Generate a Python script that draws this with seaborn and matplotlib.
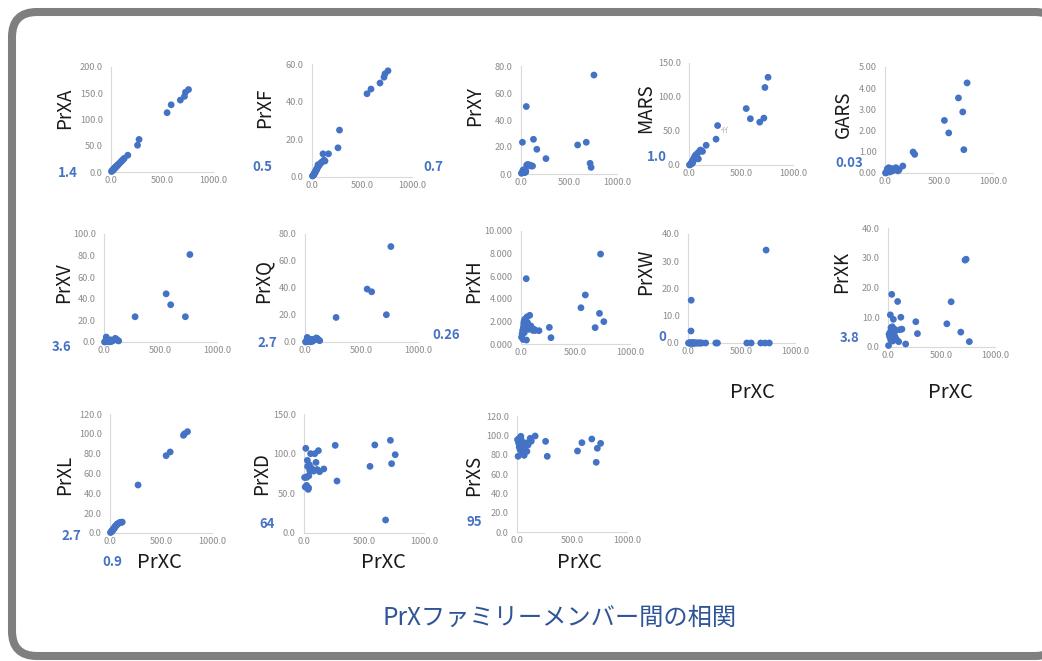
import numpy as np
import pandas as pd
import matplotlib
matplotlib.use('Agg')
import matplotlib.pyplot as plt
from matplotlib.patches import FancyBboxPatch
from matplotlib.ticker import FormatStrFormatter
import seaborn as sns

nan = np.nan

# shared x (PrXC) for every sample
prxc = [5, 10, 15, 20, 22, 25, 28, 30, 35, 38, 40, 45, 48, 50, 55, 60, 65, 70, 80, 90,
        100, 110, 120, 130, 165, 260, 275, 550, 590, 680, 720, 730, 760]

prxa = [1, 2, 3, 4, 4.5, 5, 6, 6, 7, 8, 8, 9, 10, 10, 11, 12, 13, 14, 16, 18,
        20, 22, 24, 26, 32, 51, 62, 113, 128, 137, 144, 152, 157]
prxf = [0.5, 0.8, 1, 1.5, 1.8, 2, 2.2, 2.5, 3, 3.2, 3.5, 4, 4.2, 4.5, 5, 6.5, 6, 6, 7, 7.5,
        8, 12.3, 9, 8.5, 12.3, 15.5, 24.9, 44.2, 46.7, 49.9, 53, 54.8, 56.4]
prxy = [0.5, 1, 23.5, 2, 3, 1.5, 2.5, 3, 2, 1, 3, 2.5, 1.5, 2, 50, 6.7, 6.5, 7, 6.5, 6.7,
        6, 6, 5.9, 25.7, 18.3, 11.4, nan, nan, 21.5, 23.5, 7.9, 4.9, 73.3]
mars = [0, 0.5, 1, 2, 3, 2, 4, 5, 3, 6, 8, 7, 10, 9, 12, 14, 13, 15, 17, 9,
        20, 22, 21, 20, 29, 38, 58, 83, 68, 63, 69, 114, 129]
gars = [0, 0.02, 0.05, 0.15, 0.2, 0.1, 0.05, 0.2, 0.25, 0.1, 0.15, 0.05, 0.1, 0.2, 0.1, 0.15, 0.2, 0.1, 0.15, 0.2,
        0.25, 0.2, 0.1, 0.15, 0.33, 0.99, 0.88, 2.48, 1.89, 3.54, 2.88, 1.10, 4.25]
prxv = [0, 0.5, 1, 4.6, 1, 0.5, 2, 1, 0.3, 0.5, 1, 1.5, 0.5, 0.2, 1, 2, 0.5, 1, 1.5, 2,
        3.4, 2.5, 1.5, 1, nan, nan, 23.4, 44.6, 34.5, nan, 23.4, nan, 81]
prxq = [0, 0.5, 1, 3.4, 1, 0.5, 2, 1, 0.3, 0.5, 1, 1.5, 0.5, 0.2, 1, 2, 0.5, 1, 1.5, 2,
        3, 2.5, 1.5, 1, nan, nan, 18.2, 39.2, 37.2, nan, 20.2, nan, 70.7]
prxh = [0.6, 0.9, 1.2, 0.4, 1.5, 1.8, 2.0, 1.0, 2.2, 1.6, 1.4, 1.4, 5.78, 0.35, 2.4, 1.9, 1.5, 1.3, 2.54, 1.6,
        1.4, 1.2, 1.3, 1.2, 1.18, 1.47, 0.56, 3.21, 4.34, 1.45, 2.71, 7.96, 1.98]
prxw = [0, 0, 0, 0, 0, 0, 4.4, 15.7, 0, 0, 0, 0, 0, 0, 0, 0, 0, 0, 0, 0,
        0, 0, 0, 0, 0, 0, 0, 0, 0, 0, 0, 34.1, 0]
prxk = [0.5, 4.3, 3.5, 5, 10.8, 2.5, 6.5, 4, 17.7, 3, 6.8, 2, 5, 9.3, 4.5, 6, 3.5, 5.5, 2.5, 15.3,
        1.8, 5.8, 10, 6, 1, 8.5, 4.5, 7.8, 15.2, 5.0, 29.2, 29.5, 1.8]
prxl = [0.5, 1, 1.5, 2, 2.5, 3, 3, 3.5, 4, 4.5, 5, 5.5, 6, 6.5, 7, 7.5, 8, 9, 9.5, 10,
        10.8, 10.8, 11, nan, nan, nan, 48.4, 78, 81.7, nan, 98.5, 100, 102.2]
prxd = [70, 58, 106.7, 70, 60, 71, 91.6, 84, 55, 57, 72, 86, 80, 78, 100, 82, 79, 80, 78, 100,
        89, 80, 103.8, 77.3, 80.7, 110.5, 65.5, 84, 111, 16.4, 116.8, 87.4, 98.7]
prxs = [95.5, 78.3, 92, 88, 97, 90, 85, 93, 99, 87, 95, 90, 86, 82, 91, 88, 79.3, 85, 92, 83.4,
        90, 93, 96.9, 94, 99.3, 93.8, 78.3, 83.8, 92.4, 96.2, 72.1, 86.6, 91.7]

names = ['PrXA', 'PrXF', 'PrXY', 'MARS', 'GARS', 'PrXV', 'PrXQ', 'PrXH', 'PrXW', 'PrXK', 'PrXL', 'PrXD', 'PrXS']
y_max = [200, 60, 80, 150, 5, 100, 80, 10, 40, 40, 120, 150, 120]
y_step = [50, 20, 20, 50, 1, 20, 20, 2, 10, 10, 20, 50, 20]
y_fmt = ['%.1f', '%.1f', '%.1f', '%.1f', '%.2f', '%.1f', '%.1f', '%.3f', '%.1f', '%.1f', '%.1f', '%.1f', '%.1f']

notes = ['1.4', '0.5', '0.7', '1.0', '0.03', '3.6', '2.7', '0.26', '0', '3.8', '2.7', '0.9', '64', '95']

df = pd.DataFrame({'PrXC': prxc, 'PrXA': prxa, 'PrXF': prxf, 'PrXY': prxy, 'MARS': mars,
                   'GARS': gars, 'PrXV': prxv, 'PrXQ': prxq, 'PrXH': prxh, 'PrXW': prxw,
                   'PrXK': prxk, 'PrXL': prxl, 'PrXD': prxd, 'PrXS': prxs})

# layout (pixels): axes box left, right, top, bottom and y-label centre
boxes = [(111, 213, 67, 172), (312, 412, 64, 177), (521, 617, 66, 174), (689, 793, 63, 165),
         (885, 993, 67, 173), (104, 217, 234, 342), (305, 418, 234, 342), (521, 630, 231, 344),
         (688, 795, 234, 343), (888, 995, 228, 347), (110, 212, 414, 533), (304, 424, 414, 533),
         (517, 627, 416, 532)]
ylab_pos = [(65, 108), (265, 108), (475, 106), (646, 108), (843, 114), (64, 283), (263, 281),
            (474, 281), (646, 272), (842, 272), (65, 475), (262, 474), (474, 475)]
xlab_pos = [(752, 393), (950, 393), (159, 562), (383, 562), (579, 562)]
note_pos = [(68, 173), (262, 167), (433, 167), (657, 157), (849, 163), (62, 347), (267, 343),
            (446, 335), (662, 337), (850, 338), (71, 536), (112, 562), (267, 524), (474, 522)]

W, H = 1042, 661
BLUE = '#4472C4'

sns.set_style('white')
plt.rcParams['font.family'] = ['Noto Sans CJK JP', 'DejaVu Sans']

fig = plt.figure(figsize=(W / 100, H / 100), dpi=100)
fig.patch.set_facecolor('white')

frame = FancyBboxPatch((0.12, 0.05), 10.6 - 0.12, 6.49 - 0.05,
                       boxstyle='round,pad=0,rounding_size=0.25',
                       transform=fig.dpi_scale_trans, fc='white', ec='#7f7f7f', lw=5.8, zorder=0)
fig.add_artist(frame)

for i, name in enumerate(names):
    l, r, t, b = boxes[i]
    ax = fig.add_axes([l / W, 1 - b / H, (r - l) / W, (b - t) / H])
    ax.patch.set_alpha(0)
    sns.scatterplot(data=df, x='PrXC', y=name, ax=ax, color=BLUE, s=24,
                    edgecolor='none', clip_on=False, zorder=3)
    ax.set_xlim(0, 1000)
    ax.set_ylim(0, y_max[i])
    ax.set_xticks([0, 500, 1000])
    ax.set_yticks(np.arange(0, y_max[i] + y_step[i] / 2, y_step[i]))
    ax.xaxis.set_major_formatter(FormatStrFormatter('%.1f'))
    ax.yaxis.set_major_formatter(FormatStrFormatter(y_fmt[i]))
    ax.set_xlabel('')
    ax.set_ylabel('')
    for s in ['top', 'right']:
        ax.spines[s].set_visible(False)
    for s in ['left', 'bottom']:
        ax.spines[s].set_color('#d9d9d9')
        ax.spines[s].set_linewidth(0.8)
    ax.tick_params(axis='both', length=0, labelsize=6.6, labelcolor='#8c8c8c')
    ax.tick_params(axis='y', pad=6)
    ax.tick_params(axis='x', pad=3)
    cx, cy = ylab_pos[i]
    fig.text(cx / W, 1 - cy / H, name, rotation=90, ha='center', va='center',
             fontsize=13.5, color='#1a1a1a')

for cx, cy in xlab_pos:
    fig.text(cx / W, 1 - cy / H, 'PrXC', ha='center', va='center', fontsize=14.5, color='#1a1a1a')

for txt, (cx, cy) in zip(notes, note_pos):
    fig.text(cx / W, 1 - cy / H, txt, ha='center', va='center', fontsize=9.5,
             fontweight='bold', color=BLUE)

fig.text(725 / W, 1 - 130 / H, 'ｲｲ', ha='center', va='center', fontsize=6, color='#a6a6a6')

fig.text(560 / W, 1 - 618 / H, 'PrXファミリーメンバー間の相関', ha='center', va='center',
         fontsize=17.5, color='#2F5597')

fig.savefig('out.png', dpi=100)
